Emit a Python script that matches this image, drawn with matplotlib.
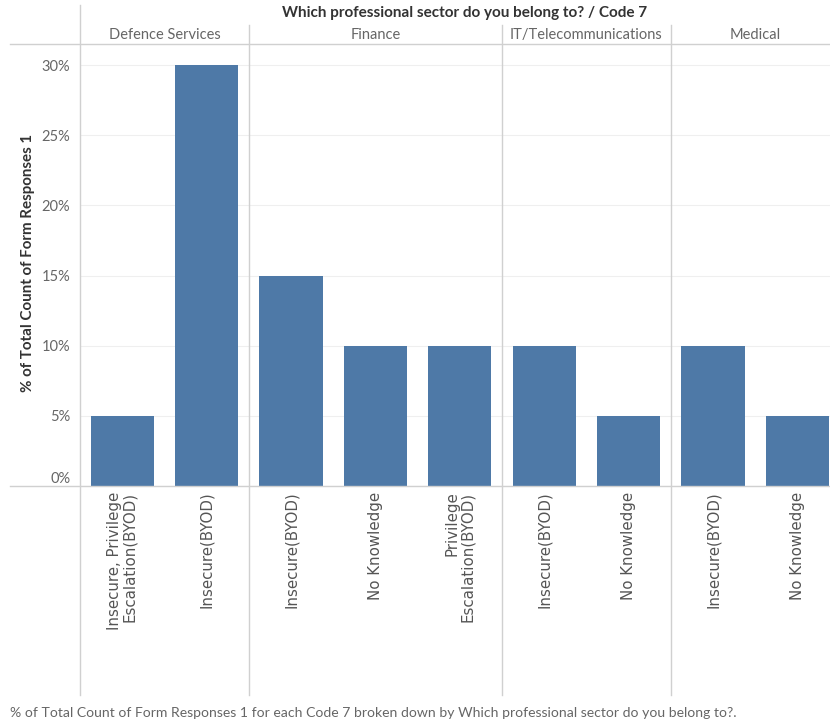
import matplotlib.pyplot as plt
from matplotlib.lines import Line2D

sectors = ['Defence Services', 'Finance', 'IT/Telecommunications', 'Medical']
codes = [
    ['Insecure, Privilege\nEscalation(BYOD)', 'Insecure(BYOD)'],
    ['Insecure(BYOD)', 'No Knowledge', 'Privilege\nEscalation(BYOD)'],
    ['Insecure(BYOD)', 'No Knowledge'],
    ['Insecure(BYOD)', 'No Knowledge'],
]
pct = [
    [5, 30],
    [15, 10, 10],
    [10, 5],
    [10, 5],
]
yticks = [0, 5, 10, 15, 20, 25, 30]

BAR = '#4e79a7'
SEP = '#d0d0d0'
GRID = '#efefef'
TXT = '#666666'
DARK = '#333333'
plt.rcParams['font.family'] = ['Lato', 'DejaVu Sans']

W, H = 830, 725
fig = plt.figure(figsize=(W / 100, H / 100), dpi=100)

def fx(x):
    return x / W

def fy(y):
    return 1 - y / H

# panes: 84.4 px per category, last pane runs past the right edge
unit = 84.4
left, top, base = 80, 44, 486
x0 = left
axes = []
for i, sec in enumerate(sectors):
    n = len(codes[i])
    w = n * unit
    ax = fig.add_axes([fx(x0), fy(base), fx(w), (base - top) / H])
    ax.bar(range(n), pct[i], width=0.75, color=BAR, zorder=3)
    ax.set_xlim(-0.5, n - 0.5)
    ax.set_ylim(0, 31.5)
    ax.set_yticks(yticks)
    ax.grid(axis='y', color=GRID, linewidth=0.8, zorder=0)
    for s in ax.spines.values():
        s.set_visible(False)
    ax.tick_params(length=0)
    ax.set_xticks(range(n))
    ax.set_xticklabels([])
    for j, lab in enumerate(codes[i]):
        ax.text(j, -0.4, lab, rotation=90, ha='center', va='top',
                multialignment='right', fontsize=10.8, color='#555555',
                family='DejaVu Sans', linespacing=1.05,
                transform=ax.transData, clip_on=False)
    if i == 0:
        ax.set_yticklabels([f'{t}%' for t in yticks], fontsize=10.5, color=TXT)
        ax.tick_params(axis='y', pad=7)
        ax.get_yticklabels()[0].set_va('bottom')
    else:
        ax.set_yticklabels([])
    fig.text(fx(x0 + w / 2), fy(35), sec, ha='center', va='center',
             fontsize=10.5, color=TXT)
    axes.append(ax)
    x0 += w

# pane separators and header / baseline rules
bounds = [left]
for c in codes[:-1]:
    bounds.append(bounds[-1] + len(c) * unit)
for k, bx in enumerate(bounds):
    ytop = 5 if k == 0 else 25
    fig.add_artist(Line2D([fx(bx), fx(bx)], [fy(ytop), fy(695)], color=SEP, linewidth=1))
fig.add_artist(Line2D([fx(10), 1], [fy(top), fy(top)], color=SEP, linewidth=1))
fig.add_artist(Line2D([fx(10), 1], [fy(base), fy(base)], color=SEP, linewidth=1))

fig.text(fx(465), fy(13), 'Which professional sector do you belong to? / Code 7',
         ha='center', va='center', fontsize=11, fontweight='bold', color=DARK)
fig.text(fx(28), fy(263), '% of Total Count of Form Responses 1', rotation=90,
         ha='center', va='center', fontsize=10.9, fontweight='bold', color=DARK)
fig.text(fx(10), fy(713),
         '% of Total Count of Form Responses 1 for each Code 7 broken down by '
         'Which professional sector do you belong to?.',
         ha='left', va='center', fontsize=10.1, color=TXT)

fig.savefig('out.png', dpi=100)
